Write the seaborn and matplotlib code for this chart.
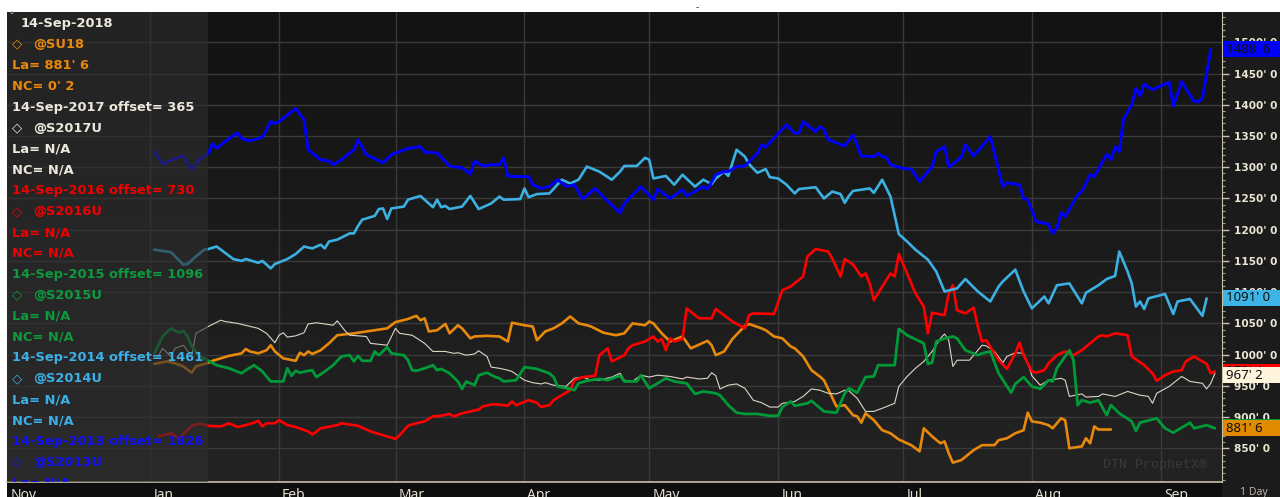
import numpy as np
import pandas as pd
import matplotlib
matplotlib.use("Agg")
import matplotlib.pyplot as plt
import matplotlib.dates as mdates
import matplotlib.transforms as mtransforms
from matplotlib.patches import Rectangle
from matplotlib.colors import LinearSegmentedColormap
from matplotlib.ticker import MultipleLocator
import seaborn as sns

sns.set_style("dark")
plt.rcParams['font.family'] = ['Noto Sans', 'DejaVu Sans']

# Seasonal soybean chart: prices in cents, x = days since 1 Jan 2018 (older years shifted by offset)
base_date = pd.Timestamp("2018-01-01")

su18_days = [1, 4, 6, 8, 10, 11, 14, 15, 17, 19, 22, 23, 24, 26, 28, 29, 30, 32, 35, 36, 37, 38, 39, 41, 43, 45,
             49, 50, 54, 57, 59, 62, 64, 65, 66, 67, 69, 71, 72, 74, 75, 77, 78, 81, 84, 86, 87, 90, 92, 93, 95,
             97, 99, 101, 103, 105, 106, 109, 112, 114, 116, 119, 120, 121, 122, 123, 125, 128, 130, 131, 134,
             135, 136, 138, 140, 143, 144, 147, 148, 150, 152, 154, 155, 157, 159, 161, 162, 165, 167, 168, 169,
             170, 171, 172, 174, 176, 178, 180, 183, 185, 186, 188, 190, 191, 192, 193, 195, 198, 200, 203, 204,
             206, 208, 210, 211, 212, 214, 216, 217, 219, 220, 221, 224, 225, 226, 227, 228, 231]
su18_vals = [985, 989, 986, 981, 971, 981, 987, 990, 994, 998, 1002, 1009, 1005, 1002, 1007, 1015, 1005, 994,
             990, 1003, 999, 1005, 1001, 1007, 1018, 1031, 1034, 1035, 1039, 1042, 1052, 1057, 1062, 1055, 1058,
             1037, 1039, 1049, 1034, 1047, 1042, 1026, 1029, 1030, 1029, 1021, 1051, 1047, 1045, 1023, 1037,
             1042, 1050, 1061, 1050, 1047, 1045, 1035, 1031, 1034, 1050, 1047, 1053, 1050, 1042, 1034, 1021,
             1029, 1010, 1013, 1022, 1015, 999, 1005, 1025, 1046, 1049, 1042, 1039, 1029, 1026, 1013, 1010, 997,
             975, 965, 959, 917, 919, 911, 903, 901, 891, 906, 895, 879, 874, 864, 855, 845, 882, 869, 858, 861,
             842, 827, 831, 847, 855, 855, 863, 866, 874, 879, 907, 893, 891, 887, 882, 898, 895, 850, 853, 866,
             858, 885, 880, 880]

s2017_days = [2, 3, 5, 6, 8, 10, 11, 14, 17, 18, 21, 26, 28, 30, 31, 32, 33, 35, 37, 38, 40, 42, 44, 45, 47, 48,
              52, 53, 57, 59, 60, 63, 66, 68, 71, 73, 74, 76, 78, 79, 81, 82, 84, 86, 87, 90, 92, 94, 95, 97, 100,
              102, 104, 106, 108, 111, 113, 114, 116, 118, 120, 122, 125, 128, 129, 132, 134, 135, 136, 137, 139,
              141, 143, 145, 147, 149, 151, 152, 155, 157, 159, 161, 163, 165, 167, 168, 170, 172, 174, 176, 179,
              180, 182, 184, 186, 188, 190, 191, 192, 193, 194, 197, 198, 200, 201, 203, 205, 206, 208, 210, 211,
              212, 214, 216, 219, 220, 221, 224, 225, 228, 229, 232, 235, 238, 240, 241, 242, 245, 248, 250, 253,
              254, 255, 256]
s2017_vals = [998, 1010, 997, 1010, 1015, 997, 1034, 1045, 1055, 1053, 1050, 1042, 1034, 1019, 1031, 1035, 1028,
              1030, 1035, 1049, 1051, 1049, 1047, 1054, 1037, 1031, 1029, 1018, 1015, 1042, 1034, 1031, 1018,
              1005, 1005, 1002, 1003, 999, 1001, 1006, 997, 980, 978, 975, 973, 959, 955, 953, 955, 951, 949, 962,
              964, 959, 959, 964, 970, 959, 957, 967, 964, 967, 965, 961, 964, 961, 962, 971, 966, 945, 951, 953,
              946, 927, 923, 916, 916, 922, 925, 933, 945, 943, 938, 937, 943, 942, 930, 909, 909, 914, 922, 949,
              965, 978, 989, 1005, 1026, 1033, 1023, 981, 991, 991, 999, 1015, 1014, 1005, 987, 997, 1003, 1002,
              986, 966, 951, 959, 962, 959, 933, 937, 932, 933, 937, 933, 941, 935, 933, 922, 938, 949, 965, 957,
              954, 945, 954, 970]

s2016_days = [2, 5, 7, 10, 12, 14, 17, 19, 21, 23, 25, 26, 27, 28, 30, 31, 33, 35, 38, 39, 41, 45, 46, 50, 53, 55,
              57, 59, 60, 62, 64, 66, 68, 70, 72, 73, 75, 77, 79, 80, 82, 84, 86, 87, 88, 91, 93, 94, 96, 97, 101,
              102, 104, 107, 108, 110, 111, 114, 115, 116, 119, 121, 122, 123, 124, 125, 126, 128, 129, 132, 135,
              136, 138, 140, 143, 144, 145, 150, 152, 154, 157, 158, 160, 163, 164, 166, 167, 169, 171, 172, 173,
              174, 178, 179, 180, 182, 184, 186, 187, 188, 191, 192, 193, 194, 196, 198, 199, 200, 201, 204, 206,
              208, 209, 210, 212, 213, 215, 216, 218, 220, 222, 224, 226, 228, 229, 230, 232, 235, 236, 239, 241,
              242, 244, 246, 248, 249, 251, 254, 255, 256]
s2016_vals = [869, 874, 866, 886, 889, 886, 885, 890, 884, 887, 891, 894, 885, 890, 890, 895, 887, 884, 877, 872,
              882, 887, 890, 886, 877, 873, 869, 865, 871, 886, 890, 893, 901, 902, 905, 901, 906, 909, 912, 917,
              920, 920, 918, 925, 919, 927, 923, 916, 919, 927, 943, 959, 964, 966, 999, 1010, 989, 999, 1010,
              1015, 1021, 1029, 1021, 1025, 1007, 1026, 1021, 1025, 1074, 1058, 1058, 1073, 1063, 1053, 1042,
              1063, 1066, 1065, 1103, 1109, 1125, 1157, 1169, 1165, 1154, 1125, 1153, 1144, 1125, 1130, 1114,
              1087, 1130, 1125, 1161, 1130, 1098, 1077, 1034, 1067, 1063, 1098, 1111, 1071, 1066, 1075, 1045,
              1021, 1023, 991, 977, 1002, 1019, 999, 973, 971, 975, 986, 999, 1005, 999, 1007, 1018, 1029, 1031,
              1029, 1034, 1031, 997, 983, 970, 958, 967, 973, 975, 989, 997, 985, 970, 973]

s2015_days = [1, 3, 5, 7, 8, 9, 10, 12, 14, 16, 19, 22, 23, 25, 27, 29, 32, 33, 34, 35, 36, 38, 39, 40, 42, 44, 46,
              48, 49, 50, 51, 53, 54, 55, 57, 58, 61, 62, 63, 64, 66, 68, 69, 70, 72, 74, 75, 76, 78, 79, 81, 83,
              84, 85, 88, 90, 93, 96, 97, 98, 101, 102, 103, 105, 108, 110, 112, 113, 114, 117, 118, 120, 124,
              126, 129, 131, 133, 136, 137, 139, 141, 143, 146, 149, 151, 152, 154, 155, 158, 159, 162, 165, 167,
              168, 170, 172, 174, 175, 179, 180, 182, 186, 187, 188, 189, 191, 193, 194, 196, 199, 200, 202, 204,
              207, 208, 210, 212, 214, 216, 217, 218, 221, 222, 223, 224, 226, 228, 230, 231, 233, 236, 237, 238,
              242, 244, 246, 250, 251, 254, 256]
s2015_vals = [1002, 1029, 1042, 1035, 1038, 1029, 1013, 997, 990, 983, 978, 970, 975, 983, 973, 957, 957, 978,
              966, 974, 971, 974, 975, 964, 973, 983, 997, 999, 989, 998, 990, 990, 1005, 999, 1012, 1002, 999,
              991, 975, 974, 978, 983, 975, 977, 970, 957, 945, 957, 951, 967, 971, 964, 962, 957, 959, 980, 977,
              970, 964, 949, 945, 943, 954, 958, 961, 959, 964, 966, 957, 957, 967, 946, 962, 957, 954, 937, 941,
              938, 935, 919, 907, 905, 905, 902, 902, 916, 925, 918, 922, 926, 909, 907, 938, 946, 939, 964, 965,
              983, 983, 1041, 1031, 1018, 985, 987, 1021, 1026, 1029, 1026, 1007, 999, 1002, 1005, 970, 939, 953,
              964, 949, 945, 959, 957, 978, 1007, 991, 919, 927, 923, 927, 903, 919, 906, 893, 878, 891, 898, 882,
              875, 891, 882, 887, 882]

s2014_days = [1, 5, 8, 9, 11, 13, 14, 16, 17, 20, 22, 23, 26, 27, 29, 30, 33, 35, 37, 39, 41, 42, 43, 45, 48, 49,
              50, 51, 54, 55, 56, 57, 58, 61, 62, 65, 68, 69, 70, 71, 72, 75, 77, 79, 82, 84, 85, 89, 90, 91, 93,
              96, 99, 101, 103, 105, 108, 111, 113, 114, 117, 119, 120, 121, 124, 126, 128, 131, 133, 135, 136,
              138, 139, 141, 143, 144, 146, 148, 149, 151, 153, 155, 156, 160, 162, 164, 166, 167, 168, 169, 173,
              174, 176, 178, 180, 182, 184, 187, 189, 191, 194, 196, 199, 202, 204, 205, 208, 210, 212, 215, 216,
              218, 221, 224, 225, 228, 230, 232, 233, 235, 236, 237, 238, 239, 240, 244, 246, 247, 250, 253, 254]
s2014_vals = [1168, 1164, 1144, 1145, 1157, 1168, 1169, 1173, 1168, 1153, 1150, 1153, 1147, 1150, 1138, 1145,
              1153, 1161, 1173, 1170, 1176, 1170, 1181, 1184, 1194, 1194, 1206, 1216, 1222, 1233, 1234, 1217,
              1234, 1237, 1248, 1254, 1236, 1248, 1236, 1238, 1233, 1237, 1254, 1233, 1242, 1253, 1248, 1249,
              1266, 1252, 1257, 1258, 1280, 1274, 1280, 1301, 1293, 1280, 1293, 1302, 1302, 1315, 1312, 1282,
              1286, 1272, 1288, 1269, 1280, 1273, 1282, 1293, 1286, 1328, 1317, 1305, 1291, 1297, 1284, 1282,
              1272, 1258, 1265, 1268, 1250, 1261, 1257, 1243, 1254, 1262, 1266, 1259, 1280, 1253, 1193, 1181,
              1168, 1152, 1133, 1101, 1106, 1121, 1101, 1085, 1109, 1117, 1136, 1101, 1074, 1093, 1082, 1111,
              1114, 1082, 1099, 1111, 1121, 1126, 1165, 1133, 1114, 1077, 1085, 1073, 1090, 1097, 1065, 1085,
              1089, 1062, 1090]

s2013_days = [1, 3, 6, 8, 10, 12, 14, 15, 16, 18, 21, 22, 24, 27, 29, 30, 31, 35, 37, 38, 41, 43, 44, 46, 49, 50,
              52, 54, 56, 58, 62, 65, 66, 69, 72, 75, 77, 78, 80, 82, 84, 85, 86, 88, 91, 92, 94, 96, 98, 100, 102,
              104, 107, 109, 113, 114, 118, 121, 122, 125, 127, 128, 129, 133, 134, 136, 138, 139, 141, 143, 146,
              147, 148, 151, 153, 155, 156, 157, 160, 161, 162, 163, 167, 169, 171, 174, 175, 176, 177, 178, 181,
              183, 185, 188, 189, 191, 192, 195, 196, 198, 202, 205, 206, 209, 210, 211, 213, 216, 217, 218, 219,
              220, 223, 224, 226, 227, 230, 231, 232, 233, 234, 236, 237, 238, 239, 241, 245, 246, 248, 251, 252,
              253, 255]
s2013_vals = [1325, 1305, 1314, 1318, 1296, 1314, 1322, 1338, 1330, 1341, 1355, 1346, 1342, 1348, 1373, 1370,
              1373, 1394, 1376, 1328, 1312, 1310, 1304, 1312, 1328, 1344, 1320, 1314, 1307, 1320, 1330, 1333,
              1324, 1323, 1302, 1299, 1289, 1310, 1302, 1304, 1304, 1315, 1286, 1285, 1285, 1272, 1266, 1269,
              1280, 1269, 1272, 1249, 1266, 1252, 1227, 1242, 1269, 1248, 1265, 1250, 1259, 1264, 1254, 1269,
              1265, 1288, 1293, 1293, 1301, 1302, 1322, 1336, 1332, 1354, 1368, 1354, 1355, 1373, 1357, 1365,
              1361, 1344, 1334, 1352, 1318, 1317, 1322, 1317, 1316, 1304, 1298, 1297, 1277, 1301, 1325, 1333,
              1300, 1316, 1336, 1318, 1349, 1269, 1275, 1272, 1250, 1248, 1213, 1209, 1194, 1202, 1227, 1221,
              1256, 1261, 1288, 1285, 1321, 1312, 1333, 1325, 1376, 1400, 1426, 1414, 1433, 1424, 1436, 1398,
              1437, 1405, 1405, 1410, 1489]

series_names = ["@SU18", "@S2017U", "@S2016U", "@S2015U", "@S2014U", "@S2013U"]
series_days = [su18_days, s2017_days, s2016_days, s2015_days, s2014_days, s2013_days]
series_vals = [su18_vals, s2017_vals, s2016_vals, s2015_vals, s2014_vals, s2013_vals]
series_colors = ["#e8890c", "#ddd6c6", "#ff0000", "#009a38", "#3cb0e2", "#0000ff"]
series_widths = [1.9, 0.8, 1.9, 2.0, 1.9, 2.1]

# legend panel text, one row per line
legend_rows = [
    ("14-Sep-2018", "#ece8dc"), ("@SU18", "#e8890c"), ("La= 881' 6", "#e8890c"), ("NC= 0' 2", "#e8890c"),
    ("14-Sep-2017 offset= 365", "#ece8dc"), ("@S2017U", "#ece8dc"), ("La= N/A", "#ece8dc"), ("NC= N/A", "#ece8dc"),
    ("14-Sep-2016 offset= 730", "#f00000"), ("@S2016U", "#f00000"), ("La= N/A", "#f00000"), ("NC= N/A", "#f00000"),
    ("14-Sep-2015 offset= 1096", "#0c9a3c"), ("@S2015U", "#0c9a3c"), ("La= N/A", "#0c9a3c"), ("NC= N/A", "#0c9a3c"),
    ("14-Sep-2014 offset= 1461", "#3cb0e6"), ("@S2014U", "#3cb0e6"), ("La= N/A", "#3cb0e6"), ("NC= N/A", "#3cb0e6"),
    ("14-Sep-2013 offset= 1826", "#1010f0"), ("@S2013U", "#1010f0"), ("La= N/A", "#1010f0"),
]

# last-value boxes on the price axis (drawn in this order, later ones on top)
box_values = [972.5, 967.25, 883.5, 881.75, 1091.0, 1488.75]
box_labels = ["972' 4", "967' 2", "883' 4", "881' 6", "1091' 0", "1488' 6"]
box_colors = ["#ff0000", "#fff4dc", "#009a38", "#e08a00", "#3cb4e6", "#0000ff"]

month_names = ["Jan", "Feb", "Mar", "Apr", "May", "Jun", "Jul", "Aug", "Sep"]
month_starts = pd.date_range("2018-01-01", periods=9, freq="MS")

W, H = 1280, 497
fig = plt.figure(figsize=(W / 100, H / 100), dpi=100, facecolor="white")
fig.add_artist(Rectangle((7 / W, 0), 1, 485 / H, transform=fig.transFigure,
                         fc="#1b1b1b", ec="none", zorder=-2))
fig.add_artist(Rectangle((7 / W, 0), 1215 / W, 15 / H, transform=fig.transFigure,
                         fc="#0e0e0e", ec="none", zorder=-1))

ax = fig.add_axes([7 / W, 15 / H, 1215 / W, 470 / H])
ax.set_facecolor("#1b1b1b")

for name, days, vals, col, lw in zip(series_names, series_days, series_vals, series_colors, series_widths):
    dates = base_date + pd.to_timedelta(days, unit="D")
    sns.lineplot(x=dates, y=vals, ax=ax, color=col, lw=lw, estimator=None, legend=False, zorder=3)

# vertical background gradient
grad_cmap = LinearSegmentedColormap.from_list("bg", ["#232323", "#131313"])
ax.imshow(np.linspace(0, 1, 256)[:, None], extent=[0, 1, 0, 1], transform=ax.transAxes,
          cmap=grad_cmap, aspect="auto", origin="lower", zorder=0)

x0 = base_date - pd.Timedelta(days=34.4)
x1 = base_date + pd.Timedelta(days=257.7)
ax.set_xlim(x0, x1)
ax.set_ylim(796, 1548.5)

ax.grid(True, which="major", color="#3a3a3a", lw=1)
ax.set_axisbelow(True)

bold_font = ["DejaVu Sans"]

# price axis on the right
yt = np.arange(850, 1501, 50)
ax.yaxis.tick_right()
ax.set_yticks(yt, labels=[f"{v}' 0" for v in yt], fontweight="bold", family=bold_font)
ax.yaxis.set_minor_locator(MultipleLocator(10))
ax.tick_params(axis="y", which="major", length=5, width=1, color="#c8c0a8", pad=4,
               labelsize=7.6, labelcolor="#ece6d4")
ax.tick_params(axis="y", which="minor", length=2.5, width=0.8, color="#a8a090")
ax.set_ylabel("")
ax.set_xlabel("")

# date axis
ax.xaxis.set_major_locator(mdates.MonthLocator(bymonth=range(1, 10)))
ax.xaxis.set_minor_locator(mdates.DayLocator())
ax.tick_params(axis="x", which="major", length=11, width=1, color="#c8c0a8", direction="out", labelbottom=False)
ax.tick_params(axis="x", which="minor", length=2, width=0.6, color="#6e6a5e", direction="out")

for side in ["top", "left"]:
    ax.spines[side].set_visible(False)
ax.spines["right"].set_color("#c8c0a8")
ax.spines["bottom"].set_color("#c8c0a8")
ax.spines["bottom"].set_linewidth(1.2)

lab_tr = mtransforms.offset_copy(ax.get_xaxis_transform(), fig=fig, x=3, y=0, units="dots")
for mname, mdate in zip(month_names, month_starts):
    ax.text(mdate, -0.013, mname, transform=lab_tr, va="top", ha="left",
            fontsize=10, color="#e4dfd0", clip_on=False)
ax.text(0.0, -0.013, "Nov", transform=mtransforms.offset_copy(ax.transAxes, fig=fig, x=4, y=0, units="dots"),
        va="top", ha="left", fontsize=10, color="#e4dfd0", clip_on=False)

# legend panel
ax.add_patch(Rectangle((0, 0), 201 / 1215, 1, transform=ax.transAxes, fc="#2e2e2e",
                       ec="none", alpha=0.62, zorder=4))
for i, (txt, col) in enumerate(legend_rows):
    yp = (482 - (23.5 + i * 20.9)) / 470
    if txt.startswith("@"):
        ax.text(5 / 1215, yp, "\u25c7", transform=ax.transAxes, va="center", ha="left",
                fontsize=9.5, color=col, zorder=6, clip_on=True, family=bold_font)
        ax.text(26 / 1215, yp, txt, transform=ax.transAxes, va="center", ha="left",
                fontsize=9.4, fontweight="bold", family=bold_font, color=col, zorder=6, clip_on=True)
    else:
        xp = 14 / 1215 if i == 0 else 5 / 1215
        ax.text(xp, yp, txt, transform=ax.transAxes, va="center", ha="left",
                fontsize=9.4, fontweight="bold", family=bold_font, color=col, zorder=6, clip_on=True)
ax.text(3 / 1215, (482 - 16) / 470, "\u00b0", transform=ax.transAxes, va="center", ha="left",
        fontsize=7, color="#bbbbbb", zorder=6)

# watermark
ax.text((1103 - 7) / 1215, (482 - 465) / 470, "DTN ProphetX\u00ae", transform=ax.transAxes,
        va="center", ha="left", fontsize=9.5, color="#3a3a3a", family=["Liberation Mono"], zorder=2)

# last value boxes
ytr = ax.get_yaxis_transform()
for k, (v, lab, col) in enumerate(zip(box_values, box_labels, box_colors)):
    ax.add_patch(Rectangle((1.0 + 1 / 1215, v - 12.8), 62 / 1215, 25.6, transform=ytr,
                           fc=col, ec="none", clip_on=False, zorder=10 + 2 * k))
    ax.text(1.0 + 4 / 1215, v, lab, transform=ytr, va="center", ha="left", fontsize=9.5,
            color="#101010", clip_on=False, zorder=11 + 2 * k)

fig.text(1240 / W, 4 / H, "1 Day", fontsize=7.5, color="#bdb7a6", va="center", ha="left")
fig.text(697 / W, (H - 8) / H, "-", fontsize=7, color="#222222", va="center", ha="center")

fig.savefig("out.png", dpi=100, facecolor="white")
